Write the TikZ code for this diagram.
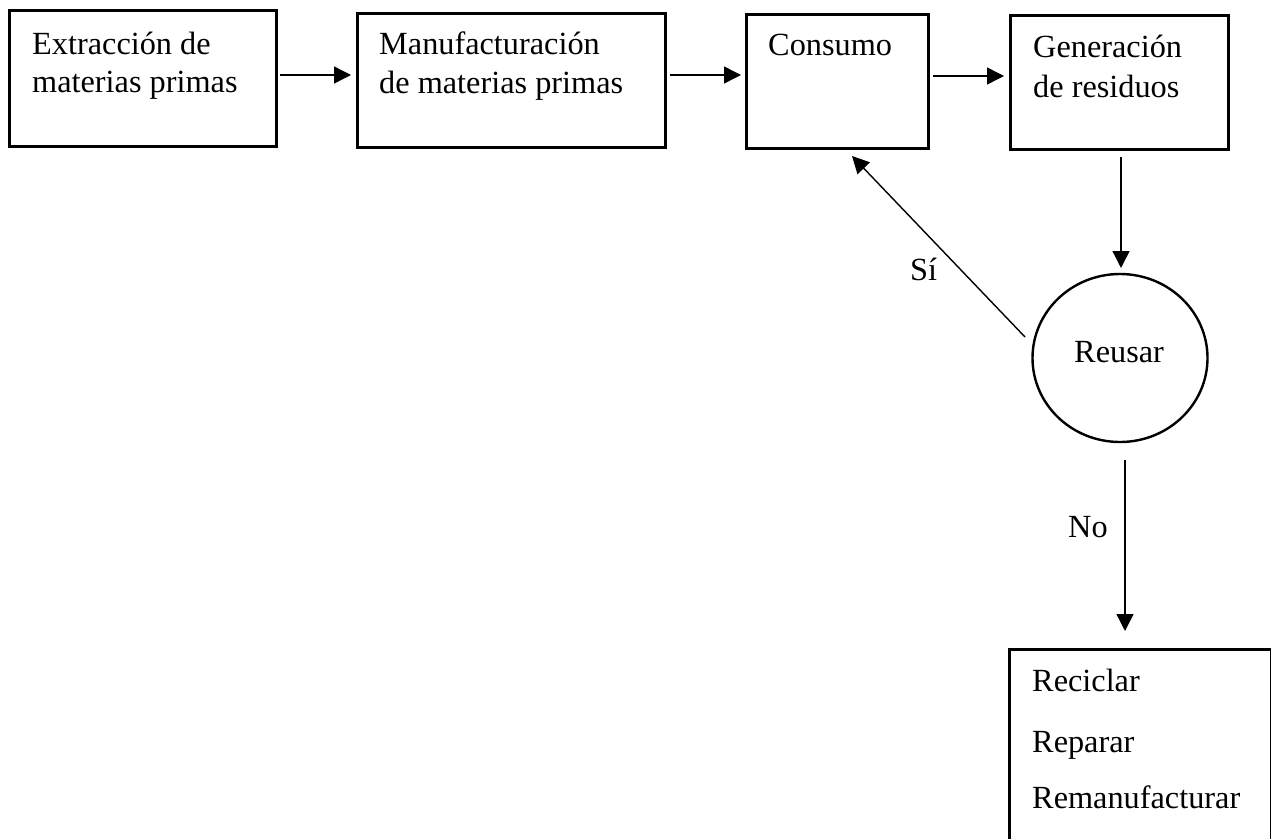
\documentclass[tikz,border=0pt]{standalone}
\usepackage{fontspec}
\setmainfont{Liberation Serif}
\usetikzlibrary{arrows.meta}
\tikzset{
  boxn/.style={draw=black, line width=2.6pt, rectangle, anchor=north west, inner sep=0pt},
  txt/.style={anchor=base west, inner sep=0pt, font=\fontsize{32.3}{38}\selectfont},
  arr/.style={line width=1.4pt, -{Triangle[length=17pt,width=17pt]}},
  circn/.style={draw=black, line width=2.4pt, ellipse, inner sep=0pt, minimum width=175pt, minimum height=168pt}
}
\usetikzlibrary{shapes.geometric}
\begin{document}
\begin{tikzpicture}[x=1pt,y=-1pt]
\useasboundingbox (0,0) rectangle (1271,838);
% boxes
\node[boxn, minimum width=267pt, minimum height=136pt] (b1) at (8,9) {};
\node[boxn, minimum width=308pt, minimum height=134pt] (b2) at (356,12) {};
\node[boxn, minimum width=182pt, minimum height=134pt] (b3) at (745,13) {};
\node[boxn, minimum width=218pt, minimum height=134pt] (b4) at (1009,14) {};
\node[boxn, minimum width=262pt, minimum height=220pt] (b5) at (1008,648) {};
\node[circn] (reusar) at (1120,358) {};
% texts
\node[txt] (t1a) at (32,54) {Extracción de};
\node[txt] (t1b) at (32,92) {materias primas};
\node[txt] (t2a) at (379,54) {Manufacturación};
\node[txt] (t2b) at (379,93) {de materias primas};
\node[txt] (t3) at (768,55) {Consumo};
\node[txt] (t4a) at (1033,57) {Generación};
\node[txt] (t4b) at (1033,97) {de residuos};
\node[txt] (tr) at (1074,362) {Reusar};
\node[txt] (t5a) at (1032,691) {Reciclar};
\node[txt] (t5b) at (1032,752) {Reparar};
\node[txt] (t5c) at (1032,808) {Remanufacturar};
\node[txt] (si) at (910,280) {Sí};
\node[txt] (no) at (1068,537) {No};
% connector end points
\coordinate (a1s) at (280,75);
\coordinate (a1e) at (351,75);
\coordinate (a2s) at (670,75);
\coordinate (a2e) at (741,75);
\coordinate (a3s) at (933,76);
\coordinate (a3e) at (1004,76);
\coordinate (a4s) at (1121,157);
\coordinate (a4e) at (1121,268);
\coordinate (sis) at (1025,337);
\coordinate (sie) at (852,156);
\coordinate (nos) at (1125,460);
\coordinate (noe) at (1125,631);
% connectors
\draw[arr] (a1s) -- (a1e);
\draw[arr] (a2s) -- (a2e);
\draw[arr] (a3s) -- (a3e);
\draw[arr] (a4s) -- (a4e);
\draw[arr] (sis) -- (sie);
\draw[arr] (nos) -- (noe);
\end{tikzpicture}
\end{document}
